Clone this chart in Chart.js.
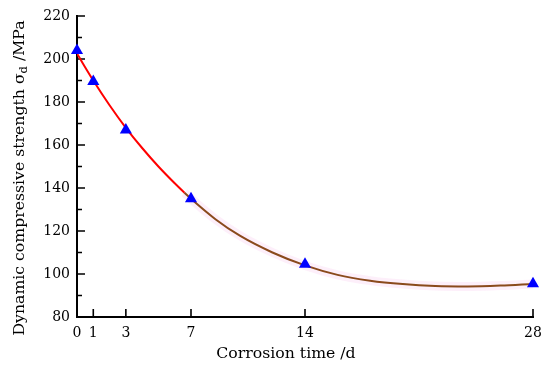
<!DOCTYPE html>
<html><head><meta charset="utf-8">
<script src="https://cdn.jsdelivr.net/npm/chart.js@4/dist/chart.umd.min.js"></script>
<style>html,body{margin:0;padding:0;background:#fff}#wrap{width:550px;height:370px}</style>
</head><body><div id="wrap"><canvas id="c" width="550" height="370"></canvas></div>
<script>
// measured points
const days = [0, 1, 3, 7, 14, 28];
const strength = [204, 189.5, 167, 135, 104.5, 95.5];
// fitted curve values
const fitDays = [0, 1, 2, 3, 4, 5, 6, 6.6, 7, 8.5, 10, 12, 14, 16, 18, 20, 22, 24, 26, 28];
const fitValues = [202.5, 190, 178.5, 168, 158.6, 150, 142.2, 137.8, 135, 125.5, 117.8, 110, 104, 99.6, 96.9, 95.3, 94.4, 94.2, 94.6, 95.4];
// axis ticks
const xTicks = [0, 1, 3, 7, 14, 28];
const yTicks = [80, 100, 120, 140, 160, 180, 200, 220];
const yMinorTicks = [90, 110, 130, 150, 170, 190, 210];
const xTitle = 'Corrosion time /d';
const yTitleParts = ['Dynamic compressive strength σ', 'd', ' /MPa'];

const FONT = '"DejaVu Serif", "Liberation Serif", serif';
const TITLE_SIZE = 15.7;

const fitPoints = fitDays.map((d, i) => ({x: d, y: fitValues[i]}));

const axisPlugin = {
  id: 'axisDeco',
  beforeDatasetsDraw(chart) {
    const {ctx, chartArea: a, scales: {x, y}} = chart;
    ctx.save();
    ctx.strokeStyle = '#000';
    ctx.lineWidth = 1.6;
    ctx.beginPath();
    yTicks.forEach(v => { const p = y.getPixelForValue(v); ctx.moveTo(a.left, p); ctx.lineTo(a.left + 8, p); });
    yMinorTicks.forEach(v => { const p = y.getPixelForValue(v); ctx.moveTo(a.left, p); ctx.lineTo(a.left + 5, p); });
    xTicks.forEach(v => { const p = x.getPixelForValue(v); ctx.moveTo(p, a.bottom); ctx.lineTo(p, a.bottom - 8); });
    ctx.stroke();
    ctx.restore();
  },
  afterDraw(chart) {
    const ctx = chart.ctx;
    const big = TITLE_SIZE + 'px ' + FONT, small = '11.5px ' + FONT;
    ctx.save();
    ctx.fillStyle = '#000';
    ctx.textBaseline = 'middle';
    // x title
    ctx.font = big;
    ctx.textAlign = 'center';
    ctx.fillText(xTitle, 286, 354);
    // y title with subscript
    ctx.translate(20, 178);
    ctx.rotate(-Math.PI / 2);
    ctx.textAlign = 'left';
    ctx.font = big; const w1 = ctx.measureText(yTitleParts[0]).width; const w3 = ctx.measureText(yTitleParts[2]).width;
    ctx.font = small; const w2 = ctx.measureText(yTitleParts[1]).width;
    let sx = -(w1 + w2 + w3) / 2;
    ctx.font = big; ctx.fillText(yTitleParts[0], sx, 0); sx += w1;
    ctx.font = small; ctx.fillText(yTitleParts[1], sx, 4); sx += w2;
    ctx.font = big; ctx.fillText(yTitleParts[2], sx, 0);
    ctx.restore();
  }
};

new Chart(document.getElementById('c'), {
  type: 'scatter',
  data: {
    datasets: [
      {
        data: fitPoints.filter(p => p.x >= 6.6),
        showLine: true,
        pointRadius: 0,
        borderWidth: 9,
        borderColor: 'rgba(252,225,246,0.55)',
        cubicInterpolationMode: 'monotone',
        order: 3
      },
      {
        data: fitPoints,
        showLine: true,
        pointRadius: 0,
        borderWidth: 2,
        borderColor: '#ff0000',
        cubicInterpolationMode: 'monotone',
        segment: { borderColor: c => (c.p0.parsed.x < 6.6 ? '#ff0000' : '#8a4a1c') },
        order: 2
      },
      {
        data: days.map((d, i) => ({x: d, y: strength[i]})),
        showLine: false,
        pointStyle: 'triangle',
        pointRadius: 7,
        pointHoverRadius: 7,
        backgroundColor: '#0000ff',
        borderColor: '#0000ff',
        borderWidth: 0,
        clip: false,
        order: 1
      }
    ]
  },
  options: {
    responsive: false,
    devicePixelRatio: 1,
    animation: false,
    layout: { padding: { left: 0, right: 17, top: 16, bottom: 0 } },
    plugins: { legend: { display: false }, tooltip: { enabled: false } },
    scales: {
      x: {
        type: 'linear', min: 0, max: 28,
        afterBuildTicks: s => { s.ticks = xTicks.map(v => ({value: v})); },
        afterFit: s => { s.height = 53; },
        grid: { display: false, drawTicks: false },
        border: { display: true, color: '#000', width: 2 },
        ticks: { color: '#000', font: { family: FONT, size: 14 }, padding: 8, maxRotation: 0, autoSkip: false },
        title: { display: false, text: xTitle }
      },
      y: {
        type: 'linear', min: 80, max: 220,
        afterBuildTicks: s => { s.ticks = yTicks.map(v => ({value: v})); },
        afterFit: s => { s.width = 77; },
        grid: { display: false, drawTicks: false },
        border: { display: true, color: '#000', width: 2 },
        ticks: { color: '#000', font: { family: FONT, size: 14 }, padding: 7 }
      }
    }
  },
  plugins: [axisPlugin]
});
</script>
</body></html>
